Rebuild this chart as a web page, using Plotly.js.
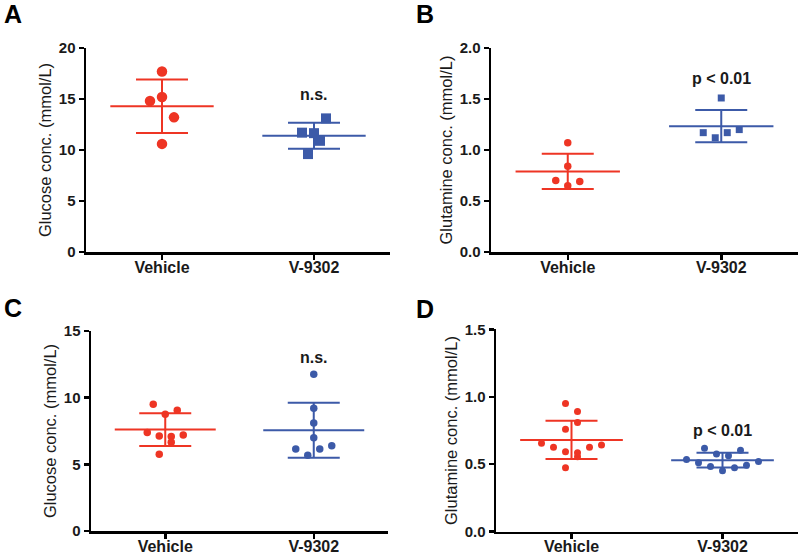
<!DOCTYPE html>
<html>
<head>
<meta charset="utf-8">
<script src="https://cdn.plot.ly/plotly-3.0.1.min.js"></script>
<style>html,body{margin:0;padding:0;background:#fff;}</style>
</head>
<body>
<div id="chart" style="width:800px;height:555px;"></div>
<script>
// ---------------- data ----------------
const categories = ["Vehicle", "V-9302"];

// Panel A: glucose (mmol/L)
const glucoseA_vehicle = [17.7, 14.8, 15.2, 13.2, 10.6];
const glucoseA_v9302   = [11.7, 11.65, 13.1, 9.6, 10.9];

// Panel B: glutamine (mmol/L)
const glutamineB_vehicle = [1.07, 0.84, 0.70, 0.65, 0.69];
const glutamineB_v9302   = [1.51, 1.17, 1.12, 1.17, 1.20];

// Panel C: glucose (mmol/L)
const glucoseC_vehicle = [9.5, 8.75, 9.05, 7.38, 7.12, 7.08, 7.2, 5.75, 6.65];
const glucoseC_v9302   = [11.75, 9.2, 8.1, 7.0, 6.15, 5.68, 6.15, 6.4];

// Panel D: glutamine (mmol/L)
const glutamineD_vehicle = [0.95, 0.89, 0.76, 0.81, 0.655, 0.625, 0.593, 0.474, 0.556, 0.586, 0.625, 0.642];
const glutamineD_v9302   = [0.536, 0.511, 0.618, 0.484, 0.576, 0.452, 0.562, 0.474, 0.603, 0.492, 0.521];

const panelLetters = ["A", "B", "C", "D"];
const yTitles = ["Glucose conc. (mmol/L)", "Glutamine conc. (mmol/L)", "Glucose conc. (mmol/L)", "Glutamine conc. (mmol/L)"];
const significance = ["n.s.", "p < 0.01", "n.s.", "p < 0.01"];

// ---------------- styles / layout ----------------
const W = 800, H = 555;
const RED = "#EE3524", BLUE = "#3C5AA8";
const FONT = "Arial, 'Liberation Sans', Helvetica, sans-serif";
const TXT = "#1a1a1a";

const panels = [
  { vehicle: glucoseA_vehicle, v9302: glucoseA_v9302, sym: "square", xpx: [86, 390], ypx: [48, 252], yr: [0, 20], dtick: 5, fmt: "d", size: 10.5, rowH: 20.6, sigY: 15.4, letterPx: [13, 14] },
  { vehicle: glutamineB_vehicle, v9302: glutamineB_v9302, sym: "square", xpx: [491, 798], ypx: [48, 252], yr: [0, 2], dtick: 0.5, fmt: ".1f", size: 7.5, rowH: 14, sigY: 1.70, letterPx: [425, 14] },
  { vehicle: glucoseC_vehicle, v9302: glucoseC_v9302, sym: "circle", xpx: [91, 388], ypx: [331, 531], yr: [0, 15], dtick: 5, fmt: "d", size: 7.5, rowH: 14, sigY: 13.0, letterPx: [13, 308] },
  { vehicle: glutamineD_vehicle, v9302: glutamineD_v9302, sym: "circle", xpx: [496, 798], ypx: [329.3, 531.7], yr: [0, 1.5], dtick: 0.5, fmt: ".1f", size: 7, rowH: 14, sigY: 0.75, letterPx: [425, 309] }
];

const STEP = 12;          // px between neighbours in a row
const MEAN_HALF = 0.34;   // mean line half width (category units)
const CAP_HALF_PX = 26;   // SD cap half width in px

function mean(a) { return a.reduce((s, v) => s + v, 0) / a.length; }
function sd(a) { const m = mean(a); return Math.sqrt(a.reduce((s, v) => s + (v - m) * (v - m), 0) / (a.length - 1)); }

// GraphPad-like row jitter: group points into rows (bottom-up), spread each row horizontally
function swarmX(values, center, pxPerY, pxPerX, rowH) {
  const idx = values.map((v, i) => i).sort((a, b) => values[a] - values[b]);
  const rows = []; let cur = null;
  idx.forEach(i => {
    const ypx = values[i] * pxPerY;
    if (!cur || ypx - cur.base > rowH) { cur = { base: ypx, members: [] }; rows.push(cur); }
    cur.members.push(i);
  });
  const xs = new Array(values.length);
  rows.forEach(r => {
    const m = r.members.slice().sort((a, b) => a - b);
    const n = m.length;
    m.forEach((i, k) => { xs[i] = center + (k - (n - 1) / 2) * STEP / pxPerX; });
  });
  return xs;
}

const traces = [];
const layout = {
  width: W, height: H,
  margin: { l: 0, r: 0, t: 0, b: 0, pad: 0 },
  paper_bgcolor: "#fff", plot_bgcolor: "#fff",
  showlegend: false,
  font: { family: FONT, color: TXT },
  annotations: []
};

panels.forEach((p, k) => {
  const n = k === 0 ? "" : String(k + 1);
  const xa = "x" + n, ya = "y" + n;
  const xRange = [-0.5, 1.5];
  const pxPerX = (p.xpx[1] - p.xpx[0]) / (xRange[1] - xRange[0]);
  const pxPerY = (p.ypx[1] - p.ypx[0]) / (p.yr[1] - p.yr[0]);

  layout["xaxis" + n] = {
    domain: [p.xpx[0] / W, p.xpx[1] / W], range: xRange, anchor: ya,
    tickvals: [0, 1], ticktext: categories,
    showline: true, linewidth: 2.5, linecolor: "#000",
    ticks: "outside", ticklen: 5, tickwidth: 2.5, tickcolor: "#000",
    ticklabelstandoff: -6,
    showgrid: false, zeroline: false, fixedrange: true,
    tickfont: { family: FONT, size: 16, color: TXT, weight: "bold" }
  };
  layout["yaxis" + n] = {
    domain: [1 - p.ypx[1] / H, 1 - p.ypx[0] / H], range: p.yr, anchor: xa,
    tick0: 0, dtick: p.dtick, tickformat: p.fmt,
    showline: true, linewidth: 2.5, linecolor: "#000",
    ticks: "outside", ticklen: 5, tickwidth: 2.5, tickcolor: "#000",
    showgrid: false, zeroline: false, fixedrange: true,
    tickfont: { family: FONT, size: 15, color: TXT, weight: "bold" },
    title: { text: yTitles[k], font: { family: FONT, size: 16.5, color: TXT }, standoff: 3 }
  };

  [[p.vehicle, RED, "circle"], [p.v9302, BLUE, p.sym]].forEach((g, ci) => {
    const vals = g[0], color = g[1], sym = g[2];
    const m = mean(vals), s = sd(vals);
    // mean line
    traces.push({ type: "scatter", mode: "lines", xaxis: xa, yaxis: ya,
      x: [ci - MEAN_HALF, ci + MEAN_HALF], y: [m, m],
      line: { color: color, width: 2 }, hoverinfo: "skip" });
    // SD bar
    traces.push({ type: "scatter", mode: "markers", xaxis: xa, yaxis: ya,
      x: [ci], y: [m], marker: { size: 1, opacity: 0 },
      error_y: { type: "data", array: [s], visible: true, color: color, thickness: 2, width: CAP_HALF_PX },
      hoverinfo: "skip" });
    // points
    traces.push({ type: "scatter", mode: "markers", xaxis: xa, yaxis: ya,
      x: swarmX(vals, ci, pxPerY, pxPerX, p.rowH), y: vals,
      marker: { symbol: sym, size: sym === "square" ? p.size - 0.5 : p.size, color: color, line: { width: 0 } },
      cliponaxis: false, name: categories[ci] });
  });

  layout.annotations.push({
    xref: xa, yref: ya, x: 1, y: p.sigY, text: significance[k], showarrow: false,
    xanchor: "center", yanchor: "middle",
    font: { family: FONT, size: 16, color: TXT, weight: "bold" }
  });
  layout.annotations.push({
    xref: "paper", yref: "paper", x: p.letterPx[0] / W, y: 1 - p.letterPx[1] / H,
    text: panelLetters[k], showarrow: false, xanchor: "center", yanchor: "middle",
    font: { family: FONT, size: 25, color: "#000", weight: "bold" }
  });
});

Plotly.newPlot("chart", traces, layout, { displayModeBar: false, staticPlot: true });
</script>
</body>
</html>
